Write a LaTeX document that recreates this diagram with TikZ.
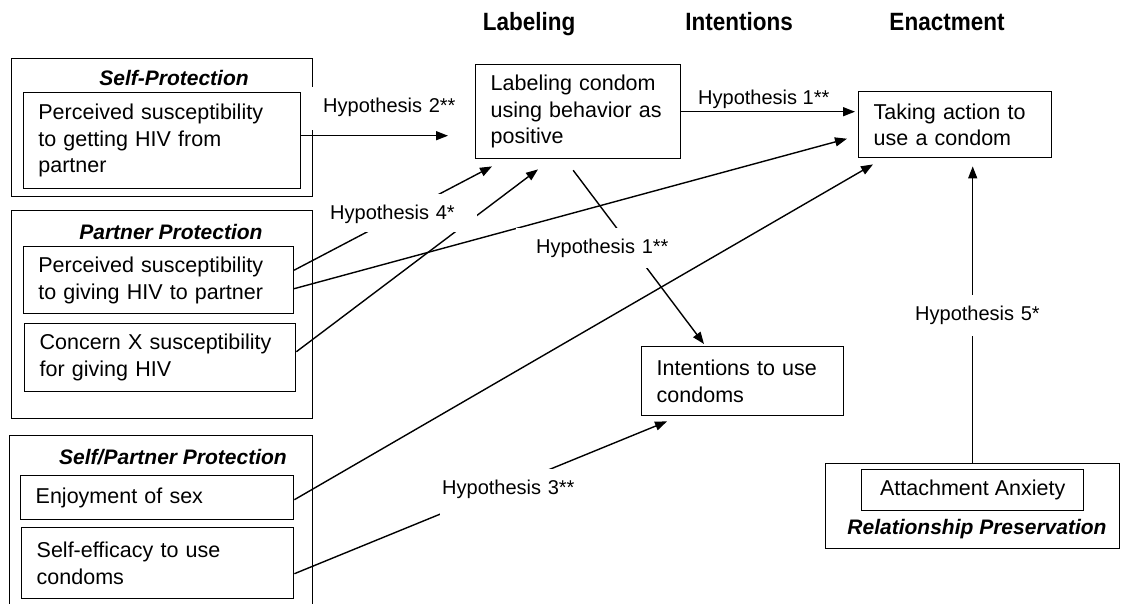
\documentclass[tikz,border=0pt]{standalone}
\usepackage{fontspec}
\setmainfont{Liberation Sans}
\usepackage{graphicx}
\usetikzlibrary{arrows.meta,calc}
\begin{document}
\begin{tikzpicture}[x=1pt,y=-1pt,
  every node/.style={inner sep=0pt},
  boxtext/.style={font=\fontsize{21.5}{26.7}\selectfont},
  box/.style={boxtext, draw, line width=1.4pt, align=left, inner xsep=15pt, inner ysep=0pt, anchor=north west},
  group/.style={draw, line width=1.4pt, anchor=north west, inner sep=0pt},
  ttl/.style={font=\fontsize{21}{26}\selectfont\bfseries\itshape, anchor=base},
  conn/.style={line width=1.4pt, -{Triangle[length=12pt,width=9pt]}},
  hyptext/.style={font=\fontsize{20}{24}\selectfont},
  hyp/.style={hyptext, fill=white, anchor=north west, align=left, text height=15pt, inner ysep=10.5pt},
  headtext/.style={anchor=base}
]
\useasboundingbox (0,0) rectangle (1122,603);

% group containers
\node[group, minimum width=301pt, minimum height=138pt] (g1) at (11,58) {};
\node[group, minimum width=301pt, minimum height=208pt] (g2) at (11,210) {};
\node[group, minimum width=303pt, minimum height=200pt] (g3) at (9,435) {};
\node[group, minimum width=294pt, minimum height=85pt] (rp) at (825,463) {};

% group titles
\node[ttl] (t1) at (174,85.5) {Self-Protection};
\node[ttl] (t2) at (171,239.5) {Partner Protection};
\node[ttl] (t3) at (173,464.5) {Self/Partner Protection};
\node[ttl] (t4) at (977,534.5) {Relationship Preservation};

% headings
\node[headtext] (hl) at (529,30) {\scalebox{0.9}[1]{\fontsize{25}{30}\selectfont\bfseries Labeling}};
\node[headtext] (hi) at (739,30) {\scalebox{0.9}[1]{\fontsize{25}{30}\selectfont\bfseries Intentions}};
\node[headtext] (he) at (947,30) {\scalebox{0.9}[1]{\fontsize{25}{30}\selectfont\bfseries Enactment}};

% boxes
\node[box, text width=247pt, minimum height=96pt] (si) at (22.7,92) {Perceived susceptibility\\to getting HIV from\\partner};
\node[box, text width=240pt, minimum height=67pt] (pb1) at (22.7,246) {Perceived susceptibility\\to giving HIV to partner};
\node[box, text width=241pt, minimum height=68pt] (pb2) at (24,323) {Concern X susceptibility\\for giving HIV};
\node[box, text width=243pt, minimum height=44pt] (enj) at (20,475) {Enjoyment of sex};
\node[box, text width=242pt, minimum height=71pt] (se) at (21,527) {Self-efficacy to use\\condoms};
\node[box, text width=175pt, minimum height=94pt] (lab) at (475,64) {Labeling condom\\using behavior as\\positive};
\node[box, text width=163pt, minimum height=66pt] (ta) at (858,91) {Taking action to\\use a condom};
\node[box, text width=172pt, minimum height=69pt] (int) at (641,346) {Intentions to use\\condoms};
\node[boxtext, draw, line width=1.4pt, anchor=north west, minimum width=222pt, minimum height=41pt] (att) at (861,469) {Attachment Anxiety};

% connectors
\draw[conn] ($(si.east)+(0,-5)$) -- ($(lab.west)+(-27,24)$);
\draw[conn, shorten >=3pt] (lab.east) -- (lab.east -| ta.west);
\draw[conn] ($(pb1.east)+(0,-10)$) -- ($(lab.south west)+(17,7)$);
\draw[conn] ($(pb2.east)+(0,-6)$) -- ($(lab.south west)+(63,10)$);
\draw[conn] ($(pb1.east)+(0,8.5)$) -- ($(ta.west)+(-11,14)$);
\draw[conn] ($(enj.east)+(0,2)$) -- ($(ta.south west)+(15,6)$);
\draw[conn] ($(se.east)+(0,10.5)$) -- ($(int.south west)+(26,5)$);
\draw[conn, shorten <=13.6pt] ($(lab.south west)+(90,0)$) -- ($(int.north west)+(63,-2)$);
\draw[conn, shorten >=8pt] (rp.north) -- (rp.north |- ta.south);

% hypothesis labels
\node[hyptext, anchor=base west] (h1a) at (698,104) {Hypothesis 1**};
\node[hyp, inner xsep=15pt, text width=135pt, text depth=7pt] (h2) at (308,87) {Hypothesis 2**};
\node[hyp, inner xsep=14pt, text width=133pt, text depth=2pt] (h4) at (316,194) {Hypothesis 4*};
\node[hyp, inner xsep=2pt, text width=141pt, text depth=15pt] (h3) at (440,469) {Hypothesis 3**};
\node[hyp, inner xsep=20pt, text width=137pt, text depth=4pt] (h1b) at (516,228) {Hypothesis 1**};
\node[hyp, inner xsep=10pt, text width=125pt, text depth=5pt] (h5) at (905,295) {Hypothesis 5*};
\end{tikzpicture}
\end{document}
